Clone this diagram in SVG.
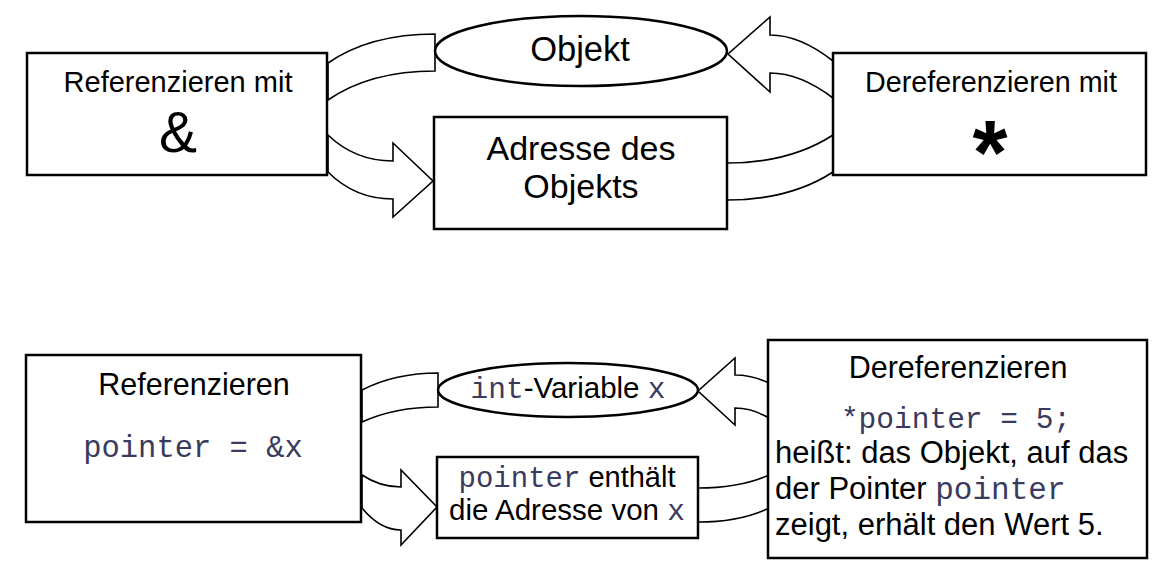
<svg xmlns="http://www.w3.org/2000/svg" width="1164" height="574" viewBox="0 0 1164 574">
<style>
.box{fill:#fff;stroke:#000;stroke-width:2.5}
.conn{fill:#fff;stroke:#000;stroke-width:1.6;stroke-linejoin:miter}
.t{font-family:"Liberation Sans",Arial,sans-serif;fill:#000}
.m{font-family:"Liberation Mono","Courier New",monospace;fill:#3a3a5e}
</style>
<rect width="1164" height="574" fill="#fff"/>
<g id="connectors">
<path class="conn" d="M328,63 Q370,34 435,34 L435,71 Q370,71 328,100 Z"/>
<path class="conn" d="M328,135 Q355,161 393,161 L393,143 L433,181 L393,217 L393,199 Q355,199 328,172 Z"/>
<path class="conn" d="M833,61 Q800,35 770,35 L770,17 L728,54 L770,92 L770,73 Q800,73 833,98 Z"/>
<path class="conn" d="M833,135 Q790,163 727,163 L727,200 Q790,200 833,172 Z"/>
<path class="conn" d="M362,390 Q395,373 438,373 L438,407 Q395,407 362,422 Z"/>
<path class="conn" d="M362,475 Q380,487 401,487 L401,470 L437,507 L401,545 L401,530 Q380,530 362,508 Z"/>
<path class="conn" d="M769,383 Q752,375 735,375 L735,358 L698,391 L735,425 L735,408 Q752,408 769,418 Z"/>
<path class="conn" d="M769,475 Q740,488 698,488 L698,522 Q740,522 769,508 Z"/>
</g>
<g id="ref-top">
<rect class="box" x="27" y="53" width="300" height="122"/>
<text class="t" x="178" y="92" font-size="29" text-anchor="middle">Referenzieren mit</text>
<text class="t" x="178" y="152" font-size="57" text-anchor="middle">&amp;</text>
</g>
<g id="objekt">
<ellipse class="box" cx="581" cy="51" rx="146" ry="35"/>
<text class="t" x="580" y="61" font-size="34.5" text-anchor="middle">Objekt</text>
</g>
<g id="adresse">
<rect class="box" x="434" y="117" width="293" height="112"/>
<text class="t" x="581" y="160" font-size="34" text-anchor="middle">Adresse des</text>
<text class="t" x="581" y="198" font-size="34" text-anchor="middle">Objekts</text>
</g>
<g id="deref-top">
<rect class="box" x="833" y="53" width="313" height="122"/>
<text class="t" x="991" y="92" font-size="28.7" text-anchor="middle">Dereferenzieren mit</text>
<text class="t" x="990" y="184" font-size="90" font-weight="bold" text-anchor="middle">*</text>
</g>
<g id="ref-bottom">
<rect class="box" x="26" y="355" width="335" height="167"/>
<text class="t" x="194" y="395" font-size="30.5" text-anchor="middle">Referenzieren</text>
<text class="m" x="193" y="457" font-size="30.5" text-anchor="middle">pointer = &amp;x</text>
</g>
<g id="int-variable">
<ellipse class="box" cx="568" cy="390" rx="130" ry="27"/>
<text x="568" y="398" font-size="29.5" text-anchor="middle"><tspan class="m">int</tspan><tspan class="t">-Variable </tspan><tspan class="m">x</tspan></text>
</g>
<g id="pointer-box">
<rect class="box" x="437" y="457" width="261" height="81"/>
<text x="567" y="487" font-size="29" text-anchor="middle"><tspan class="m">pointer</tspan><tspan class="t"> enthält</tspan></text>
<text x="567" y="520" font-size="29.5" text-anchor="middle"><tspan class="t">die Adresse von </tspan><tspan class="m">x</tspan></text>
</g>
<g id="deref-bottom">
<rect class="box" x="768" y="340" width="379" height="218"/>
<text class="t" x="958" y="378" font-size="30.5" text-anchor="middle">Dereferenzieren</text>
<text class="m" x="956" y="428" font-size="29.5" text-anchor="middle">*pointer = 5;</text>
<text class="t" x="775" y="463" font-size="31">heißt: das Objekt, auf das</text>
<text x="775" y="499" font-size="31"><tspan class="t">der Pointer </tspan><tspan class="m">pointer</tspan></text>
<text class="t" x="775" y="535" font-size="31">zeigt, erhält den Wert 5.</text>
</g>
</svg>
